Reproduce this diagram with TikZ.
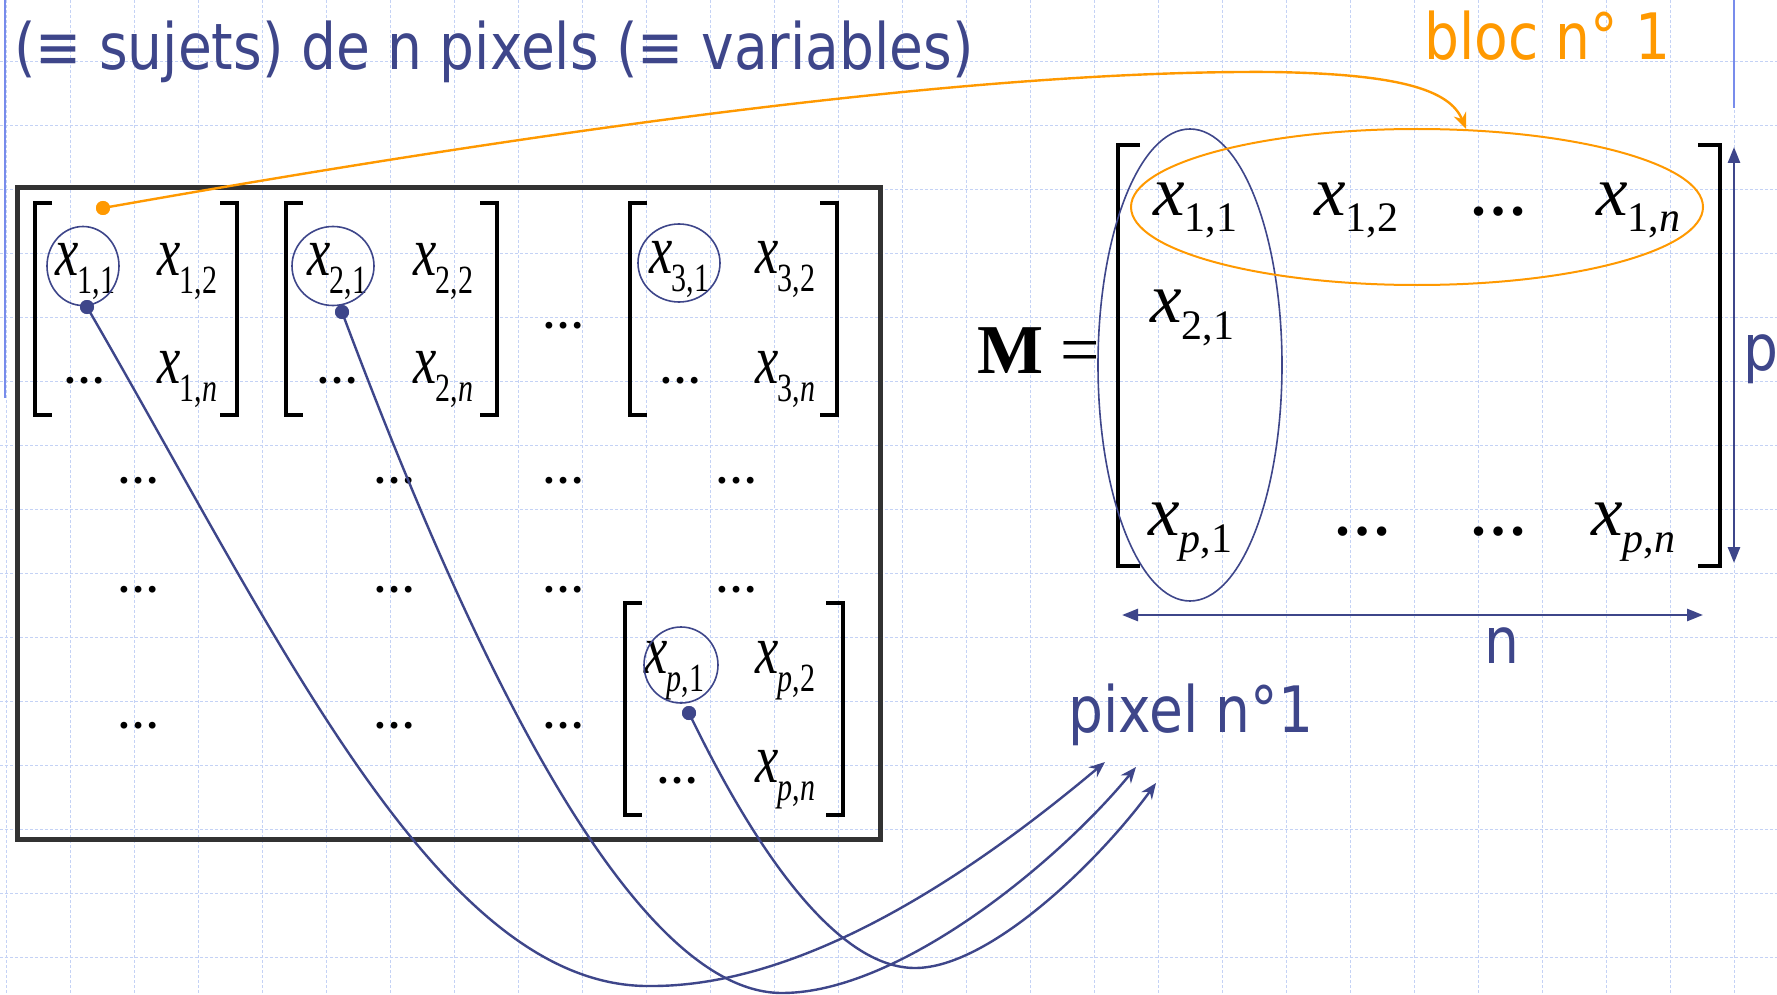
\documentclass[tikz,border=0pt]{standalone}
\usepackage{fontspec}
\usepackage{graphicx}
\usetikzlibrary{arrows.meta,shapes.geometric}
\newfontfamily\tah[FakeStretch=0.86]{DejaVu Sans}
\newfontfamily\tnr{Liberation Serif}
\definecolor{navy}{RGB}{62,70,138}
\definecolor{orng}{RGB}{255,153,0}
\definecolor{gridc}{RGB}{196,210,245}
\definecolor{marg}{RGB}{120,140,235}
\definecolor{boxc}{RGB}{50,50,50}
\newcommand\lx[1]{\scalebox{0.75}[1]{\fontsize{70}{70}\selectfont\tnr\textit{x}\kern-1pt\raisebox{-18pt}{\fontsize{40}{40}\selectfont #1}}}
\newcommand\mx[1]{{\fontsize{71}{71}\selectfont\tnr\textit{x}\raisebox{-17pt}{\fontsize{42}{42}\selectfont #1}}}
\newcommand\ldts{{\fontsize{42}{42}\selectfont\tnr\bfseries …}}
\newcommand\mdts{{\fontsize{58}{58}\selectfont\tnr\bfseries …}}
\tikzset{
  gridline/.style={gridc,line width=0.9pt,dash pattern=on 3pt off 2pt},
  ent/.style={inner sep=0pt,anchor=base west},
  dts/.style={inner sep=0pt,anchor=base},
  lbl/.style={inner sep=0pt,anchor=base west,text=navy,font=\tah\fontsize{64}{64}\selectfont},
  brk/.style={line width=4pt,black},
  ring/.style={draw=navy,line width=1.6pt,ellipse,inner sep=0pt},
  bdot/.style={circle,fill=navy,inner sep=0pt,minimum size=14pt},
  odot/.style={circle,fill=orng,inner sep=0pt,minimum size=14pt},
  barrow/.style={navy,line width=2.4pt,-{Stealth[length=16pt,width=13pt]}},
  oarrow/.style={orng,line width=2.4pt,-{Stealth[length=16pt,width=13pt]}},
  dimarrow/.style={navy,line width=2.6pt,{Triangle[length=16pt,width=12pt]}-{Triangle[length=16pt,width=12pt]}},
}
\newcommand\lbrk[4]{\draw[brk] (#1+#4,#2) -- (#1,#2) -- (#1,#3) -- (#1+#4,#3);}
\begin{document}
\begin{tikzpicture}[x=1pt,y=-1pt]
\useasboundingbox (0,0) rectangle (1777,995);
\fill[white] (0,0) rectangle (1777,995);
% grid
\foreach \i in {0,...,27} \draw[gridline] (6+64*\i,0) -- (6+64*\i,995);
\foreach \j in {0,...,14} \draw[gridline] (0,61+64*\j) -- (1777,61+64*\j);
% margin lines
\draw[marg,line width=2.5pt] (5,0) -- (5,398);
\draw[marg,line width=2.5pt] (1734,0) -- (1734,108);

% title and labels
\node[lbl] (title) at (14,70) {(≡ sujets) de n pixels (≡ variables)};
\node[lbl,text=orng] (bloc) at (1424,60) {bloc n° 1};
\node[lbl] (pixel) at (1068,732) {pixel n°1};
\node[lbl,anchor=base] (nlab) at (1502,663) {n};
\node[lbl] (plab) at (1743,370) {p};

% left box
\draw[boxc,line width=5pt] (17,188) rectangle (880,839);

% matrix 1
\lbrk{35}{203}{415}{17} \lbrk{237}{203}{415}{-17}
\node[ent] (x11) at (55,275) {\lx{1,1}};
\node[ent] (x12) at (157,275) {\lx{1,2}};
\node[dts] (e1) at (84,383) {\ldts};
\node[ent] (x1n) at (157,383) {\lx{1,\textit{n}}};
% matrix 2
\lbrk{286}{203}{415}{17} \lbrk{497}{203}{415}{-17}
\node[ent] (x21) at (307,275) {\lx{2,1}};
\node[ent] (x22) at (413,275) {\lx{2,2}};
\node[dts] (e2) at (337,383) {\ldts};
\node[ent] (x2n) at (413,383) {\lx{2,\textit{n}}};
% between
\node[dts] (eb) at (563,328) {\ldts};
% matrix 3
\lbrk{630}{203}{415}{17} \lbrk{837}{203}{415}{-17}
\node[ent] (x31) at (649,273) {\lx{3,1}};
\node[ent] (x32) at (755,273) {\lx{3,2}};
\node[dts] (e3) at (680,383) {\ldts};
\node[ent] (x3n) at (755,383) {\lx{3,\textit{n}}};
% matrix p
\lbrk{625}{603}{815}{17} \lbrk{843}{603}{815}{-17}
\node[ent] (xp1) at (644,673) {\lx{\textit{p},1}};
\node[ent] (xp2) at (755,673) {\lx{\textit{p},2}};
\node[dts] (ep) at (677,783) {\ldts};
\node[ent] (xpn) at (755,782) {\lx{\textit{p},\textit{n}}};
% dots rows
\foreach \xx/\nm in {138/a,394/b,563/c,736/d} {
  \node[dts] (r1\nm) at (\xx,483) {\ldts};
  \node[dts] (r2\nm) at (\xx,592) {\ldts};
}
\foreach \xx/\nm in {138/a,394/b,563/c} \node[dts] (r3\nm) at (\xx,728) {\ldts};

% circles
\node[ring,minimum width=72pt,minimum height=79pt] (c1) at (83,266) {};
\node[ring,minimum width=82pt,minimum height=79pt] (c2) at (333,266) {};
\node[ring,minimum width=82pt,minimum height=78pt] (c3) at (679,263) {};
\node[ring,minimum width=74pt,minimum height=76pt] (cp) at (681,665) {};

% matrix M
\node[inner sep=0pt,anchor=base west] (Meq) at (977,373) {\fontsize{70}{70}\selectfont\tnr\textbf{M} =};
\draw[brk] (1140,145) -- (1118,145) -- (1118,566) -- (1140,566);
\draw[brk] (1698,145) -- (1720,145) -- (1720,566) -- (1698,566);
\node[ent] (m11) at (1153,215) {\mx{1,1}};
\node[ent] (m12) at (1314,215) {\mx{1,2}};
\node[dts] (md1) at (1498,215) {\mdts};
\node[ent] (m1n) at (1596,215) {\mx{1,\textit{n}}};
\node[ent] (m21) at (1150,322) {\mx{2,1}};
\node[ent] (mp1) at (1148,535) {\mx{\textit{p},1}};
\node[dts] (md2) at (1362,535) {\mdts};
\node[dts] (md3) at (1498,535) {\mdts};
\node[ent] (mpn) at (1591,535) {\mx{\textit{p},\textit{n}}};

\node[ring,minimum width=184pt,minimum height=472pt] (colell) at (1190,365) {};
\node[draw=orng,line width=2pt,ellipse,inner sep=0pt,minimum width=572pt,minimum height=156pt] (rowell) at (1417,207) {};

% dimension arrows
\coordinate (ptop) at (1734,147);
\coordinate (pbot) at (1734,563);
\coordinate (nl) at (1122,615);
\coordinate (nr) at (1703,615);
\draw[dimarrow] (ptop) -- (pbot);
\draw[dimarrow] (nl) -- (nr);

% connectors
\coordinate (otip) at (1466,129);
\coordinate (t1) at (1105,762);
\coordinate (t2) at (1136,767);
\coordinate (t3) at (1156,783);
\node[odot] (od) at (103,208) {};
\node[bdot] (d1) at (87,307) {};
\node[bdot] (d2) at (342,312) {};
\node[bdot] (dp) at (689,713) {};
\draw[oarrow] (od.center) .. controls (600,120) and (1000,70) .. (1272,72) .. controls (1400,74) and (1450,90) .. (otip);
\draw[barrow] (d1.center) .. controls (280,640) and (440,990) .. (652,986) .. controls (820,986) and (1000,850) .. (t1);
\draw[barrow] (d2.center) .. controls (450,600) and (620,993) .. (782,993) .. controls (900,993) and (1060,860) .. (t2);
\draw[barrow] (dp.center) .. controls (760,860) and (840,968) .. (915,968) .. controls (990,968) and (1100,860) .. (t3);
\node[odot] at (od) {};
\node[bdot] at (d1) {};
\node[bdot] at (d2) {};
\node[bdot] at (dp) {};
\end{tikzpicture}
\end{document}
